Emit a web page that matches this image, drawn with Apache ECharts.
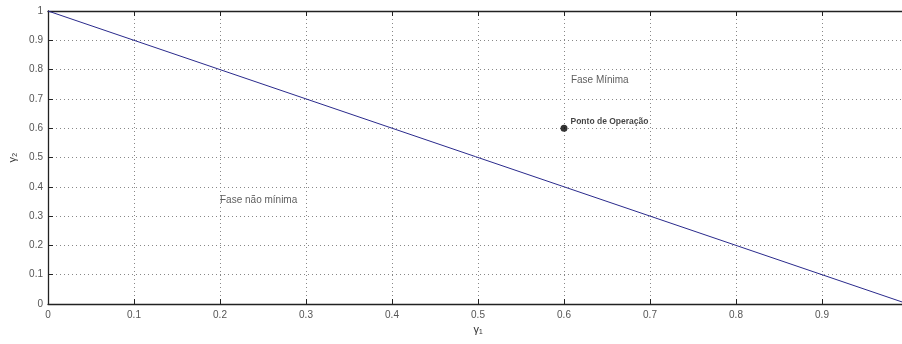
<!DOCTYPE html>
<html>
<head>
<meta charset="utf-8">
<script src="https://cdn.jsdelivr.net/npm/echarts@6/dist/echarts.min.js"></script>
<style>
  html, body { margin: 0; padding: 0; background: #fff; }
  #chart { width: 902px; height: 344px; }
</style>
</head>
<body>
<div id="chart"></div>
<script>
// Boundary gamma1 + gamma2 = 1 between minimum and non-minimum phase
const gamma1 = [0, 1];
const gamma2 = [1, 0];
// Operating point
const opPoint = [0.6, 0.6];
const opLabel = 'Ponto de Operação';
// Region annotations
const regionLabels = [
  { name: 'Fase Mínima', pos: [0.608, 0.765] },
  { name: 'Fase não mínima', pos: [0.2, 0.355] }
];

const FONT = '"Liberation Sans", Arial, sans-serif';
const tickColor = '#555';
const frameColor = '#222';

const chart = echarts.init(document.getElementById('chart'), null, { renderer: 'canvas' });

const baseAxis = {
  type: 'value',
  min: 0,
  max: 1,
  interval: 0.1,
  axisLine: { show: true, onZero: false, lineStyle: { color: frameColor, width: 1.3 } },
  axisTick: { show: true, inside: true, length: 5, lineStyle: { color: frameColor } },
  splitLine: { show: false }
};

chart.setOption({
  animation: false,
  backgroundColor: '#fff',
  grid: { left: 48, top: 11, width: 860, height: 293, containLabel: false, outerBoundsMode: 'none' },
  xAxis: [
    Object.assign({}, baseAxis, {
      position: 'bottom',
      name: 'γ₁',
      nameLocation: 'middle',
      nameGap: 17,
      nameTextStyle: { fontFamily: FONT, fontSize: 11, color: '#333' },
      axisLabel: {
        fontFamily: FONT, fontSize: 10, color: tickColor, margin: 6,
        showMaxLabel: false,
        formatter: v => String(Math.round(v * 10) / 10)
      },
      splitLine: { show: true, lineStyle: { type: [1, 3], color: '#888', width: 1 } }
    }),
    Object.assign({}, baseAxis, {
      position: 'top',
      axisLabel: { show: false }
    })
  ],
  yAxis: [
    Object.assign({}, baseAxis, {
      position: 'left',
      name: 'γ₂',
      nameLocation: 'middle',
      nameGap: 26,
      nameRotate: 90,
      nameTextStyle: { fontFamily: FONT, fontSize: 11, color: '#333' },
      axisLabel: {
        fontFamily: FONT, fontSize: 10, color: tickColor, margin: 5,
        formatter: v => String(Math.round(v * 10) / 10)
      },
      splitLine: { show: true, lineStyle: { type: [1, 3], color: '#888', width: 1 } }
    }),
    Object.assign({}, baseAxis, {
      position: 'right',
      axisLabel: { show: false }
    })
  ],
  series: [
    {
      type: 'line',
      data: gamma1.map((g, i) => [g, gamma2[i]]),
      symbol: 'none',
      lineStyle: { color: '#2a2a8c', width: 1 },
      silent: true
    },
    {
      type: 'scatter',
      data: [opPoint],
      symbol: 'circle',
      symbolSize: 7,
      itemStyle: { color: '#000' },
      label: {
        show: true,
        position: [10, -8],
        formatter: opLabel,
        fontFamily: FONT,
        fontSize: 8.5,
        fontWeight: 'bold',
        color: '#111'
      }
    },
    {
      type: 'scatter',
      data: regionLabels.map(r => ({ value: r.pos, name: r.name })),
      symbolSize: 0,
      label: {
        show: true,
        position: 'right',
        distance: 0,
        formatter: p => p.name,
        fontFamily: FONT,
        fontSize: 10,
        color: '#333'
      },
      silent: true
    }
  ]
});
</script>
</body>
</html>
